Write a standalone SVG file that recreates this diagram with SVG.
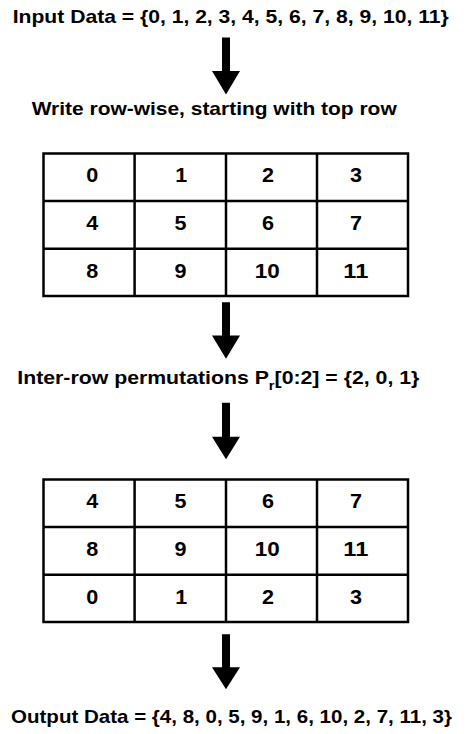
<svg xmlns="http://www.w3.org/2000/svg" width="468" height="734" viewBox="0 0 468 734">
<style>
  .lbl { font-family: "Liberation Sans", Arial, sans-serif; font-weight: bold; font-size: 19px; fill: #000; }
  .num { font-family: "Liberation Sans", Arial, sans-serif; font-weight: bold; font-size: 19.5px; fill: #000; text-anchor: middle; }
  .grid { fill: #fff; stroke: #000; stroke-width: 2.5; }
  .gl { stroke: #000; stroke-width: 2.5; }
  .arrow { fill: #000; }
</style>
<rect width="468" height="734" fill="#fff"/>

<g id="connectors">
  <polygon class="arrow" points="222,37.5 230,37.5 230,71 240,71 226,94.5 212,71 222,71"/>
  <polygon class="arrow" points="222,302.3 230,302.3 230,335.5 240,335.5 226,358.7 212,335.5 222,335.5"/>
  <polygon class="arrow" points="222,402.7 230,402.7 230,436.7 240,436.7 226,459.3 212,436.7 222,436.7"/>
  <polygon class="arrow" points="222,634.3 230,634.3 230,667.3 240,667.3 226,689.3 212,667.3 222,667.3"/>
</g>

<g id="input-label">
  <text class="lbl" x="12.7" y="23" textLength="436" lengthAdjust="spacingAndGlyphs">Input Data = {0, 1, 2, 3, 4, 5, 6, 7, 8, 9, 10, 11}</text>
</g>

<g id="write-label">
  <text class="lbl" x="31.7" y="115" textLength="365" lengthAdjust="spacingAndGlyphs">Write row-wise, starting with top row</text>
</g>

<g id="table-1">
  <rect class="grid" x="43.5" y="153.5" width="364.5" height="142.5"/>
  <line class="gl" x1="134.6" y1="153.5" x2="134.6" y2="296"/>
  <line class="gl" x1="226" y1="153.5" x2="226" y2="296"/>
  <line class="gl" x1="317" y1="153.5" x2="317" y2="296"/>
  <line class="gl" x1="43.5" y1="201" x2="408" y2="201"/>
  <line class="gl" x1="43.5" y1="248.7" x2="408" y2="248.7"/>
  <text class="num" x="92.2" y="182.3" textLength="12" lengthAdjust="spacingAndGlyphs">0</text>
  <text class="num" x="181.2" y="182.3" textLength="12" lengthAdjust="spacingAndGlyphs">1</text>
  <text class="num" x="268" y="182.3" textLength="12" lengthAdjust="spacingAndGlyphs">2</text>
  <text class="num" x="356" y="182.3" textLength="12" lengthAdjust="spacingAndGlyphs">3</text>
  <text class="num" x="92.2" y="230" textLength="12" lengthAdjust="spacingAndGlyphs">4</text>
  <text class="num" x="180.5" y="230" textLength="12" lengthAdjust="spacingAndGlyphs">5</text>
  <text class="num" x="268" y="230" textLength="12" lengthAdjust="spacingAndGlyphs">6</text>
  <text class="num" x="356" y="230" textLength="12" lengthAdjust="spacingAndGlyphs">7</text>
  <text class="num" x="92.2" y="277.7" textLength="12" lengthAdjust="spacingAndGlyphs">8</text>
  <text class="num" x="180.5" y="277.7" textLength="12" lengthAdjust="spacingAndGlyphs">9</text>
  <text class="num" x="267.3" y="277.7" textLength="25" lengthAdjust="spacingAndGlyphs">10</text>
  <text class="num" x="355.8" y="277.7" textLength="25" lengthAdjust="spacingAndGlyphs">11</text>
</g>

<g id="permute-label">
  <text class="lbl" x="17.3" y="384" textLength="402" lengthAdjust="spacingAndGlyphs">Inter-row permutations P<tspan font-size="13" dy="6">r</tspan><tspan dy="-6">[0:2] = {2, 0, 1}</tspan></text>
</g>

<g id="table-2">
  <rect class="grid" x="43.5" y="479.5" width="364.5" height="142.5"/>
  <line class="gl" x1="134.6" y1="479.5" x2="134.6" y2="622"/>
  <line class="gl" x1="226" y1="479.5" x2="226" y2="622"/>
  <line class="gl" x1="317" y1="479.5" x2="317" y2="622"/>
  <line class="gl" x1="43.5" y1="527" x2="408" y2="527"/>
  <line class="gl" x1="43.5" y1="574.7" x2="408" y2="574.7"/>
  <text class="num" x="92.2" y="508.3" textLength="12" lengthAdjust="spacingAndGlyphs">4</text>
  <text class="num" x="180.5" y="508.3" textLength="12" lengthAdjust="spacingAndGlyphs">5</text>
  <text class="num" x="268" y="508.3" textLength="12" lengthAdjust="spacingAndGlyphs">6</text>
  <text class="num" x="356" y="508.3" textLength="12" lengthAdjust="spacingAndGlyphs">7</text>
  <text class="num" x="92.2" y="556" textLength="12" lengthAdjust="spacingAndGlyphs">8</text>
  <text class="num" x="180.5" y="556" textLength="12" lengthAdjust="spacingAndGlyphs">9</text>
  <text class="num" x="267.3" y="556" textLength="25" lengthAdjust="spacingAndGlyphs">10</text>
  <text class="num" x="355.8" y="556" textLength="25" lengthAdjust="spacingAndGlyphs">11</text>
  <text class="num" x="92.2" y="603.7" textLength="12" lengthAdjust="spacingAndGlyphs">0</text>
  <text class="num" x="181.2" y="603.7" textLength="12" lengthAdjust="spacingAndGlyphs">1</text>
  <text class="num" x="268" y="603.7" textLength="12" lengthAdjust="spacingAndGlyphs">2</text>
  <text class="num" x="356" y="603.7" textLength="12" lengthAdjust="spacingAndGlyphs">3</text>
</g>

<g id="output-label">
  <text class="lbl" x="11" y="722.7" textLength="441" lengthAdjust="spacingAndGlyphs">Output Data = {4, 8, 0, 5, 9, 1, 6, 10, 2, 7, 11, 3}</text>
</g>
</svg>
